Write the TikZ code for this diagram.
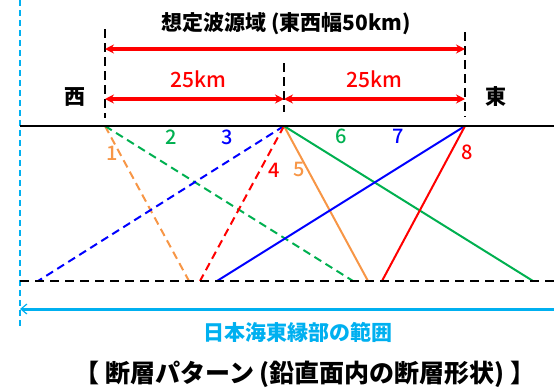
\documentclass[tikz,border=0pt]{standalone}
\usepackage{fontspec}
\setmainfont{Noto Sans CJK JP}
\newfontfamily\midfont{Noto Sans CJK JP Medium}
\usetikzlibrary{arrows.meta}
\definecolor{fltorange}{HTML}{F79646}
\definecolor{fltgreen}{HTML}{00B050}
\definecolor{fltblue}{HTML}{0000FF}
\definecolor{fltred}{HTML}{FF0000}
\definecolor{seablue}{HTML}{00B0F0}
\tikzstyle{heading}=[inner sep=0pt, font=\bfseries\fontsize{21}{21}\selectfont]
\tikzstyle{caption}=[inner sep=0pt, font=\bfseries\fontsize{25}{25}\selectfont]
\tikzstyle{num}=[inner sep=0pt, font=\midfont\fontsize{20}{20}\selectfont]
\tikzstyle{km}=[inner sep=0pt, fltred, font=\midfont\fontsize{21}{21}\selectfont]
\tikzstyle{fault}=[line width=2pt]
\tikzstyle{hidden}=[fault, dash pattern=on 8pt off 5pt]
\tikzstyle{edgemark}=[line width=2pt, dash pattern=on 9pt off 5pt]
\tikzstyle{span}=[line width=3.2pt, fltred, {Stealth[length=9pt,width=9pt]}-{Stealth[length=9pt,width=9pt]}]

\begin{document}
\begin{tikzpicture}[x=1pt, y=-1pt]
\useasboundingbox (0,0) rectangle (554,388);

% surface and lower edge
\coordinate (SL) at (20,126);
\coordinate (SR) at (554,126);
\coordinate (BL) at (20,281);
\coordinate (BR) at (554,281);

% fault tops
\coordinate (W) at (105,126);
\coordinate (C) at (284,126);
\coordinate (E) at (465,126);

% fault bottoms
\coordinate (b1) at (189,281);
\coordinate (b2) at (353,281);
\coordinate (b3) at (38,281);
\coordinate (b4) at (200,281);
\coordinate (b5) at (368,281);
\coordinate (b6) at (533,281);
\coordinate (b7) at (217,281);
\coordinate (b8) at (382,281);

% dashed markers
\coordinate (Wt) at (105,29);
\coordinate (Wb) at (105,118);
\coordinate (Ct) at (284,63);
\coordinate (Cb) at (284,112);
\coordinate (Et) at (465,32);
\coordinate (Eb) at (465,117);

\coordinate (Wa) at (105,49);
\coordinate (Ea) at (465,49);
\coordinate (Wl) at (105,99);
\coordinate (Cl) at (284,99);
\coordinate (El) at (465,99);

% sea area
\coordinate (St) at (20,0);
\coordinate (Sb) at (20,328);
\coordinate (Ar) at (554,309);
\coordinate (Al) at (20,309);

\node [heading] (title) at (286,24) {想定波源域 (東西幅50km)};
\node [km] (kmW) at (198,79) {25km};
\node [km] (kmE) at (374,79) {25km};
\node [heading] (west) at (75,97) {西};
\node [heading] (east) at (496,97) {東};

\node [num, fltorange] (n1) at (112,153) {1};
\node [num, fltgreen] (n2) at (171,137) {2};
\node [num, fltblue] (n3) at (227,137) {3};
\node [num, fltred] (n4) at (274,170) {4};
\node [num, fltorange] (n5) at (299,169) {5};
\node [num, fltgreen] (n6) at (341,136) {6};
\node [num, fltblue] (n7) at (398,136) {7};
\node [num, fltred] (n8) at (467,152) {8};

\node [heading, seablue] (sea) at (298,332) {日本海東縁部の範囲};
\node [caption] (pattern) at (305,374) {【 断層パターン (鉛直面内の断層形状) 】};

\draw [line width=1.5pt, seablue, dash pattern=on 6pt off 4pt] (St) -- (Sb);
\draw [line width=3pt, seablue, -{Straight Barb[length=6pt,width=10pt,line width=1.2pt]}] (Ar) -- (Al);

\draw [edgemark] (Wt) -- (Wb);
\draw [edgemark] (Ct) -- (Cb);
\draw [edgemark] (Et) -- (Eb);

\draw [span] (Wa) -- (Ea);
\draw [span] (Wl) -- (Cl);
\draw [span] (Cl) -- (El);

\draw [hidden, fltorange] (W) -- (b1);
\draw [hidden, fltgreen] (W) -- (b2);
\draw [hidden, fltblue] (C) -- (b3);
\draw [hidden, fltred] (C) -- (b4);
\draw [fault, fltorange] (C) -- (b5);
\draw [fault, fltgreen] (C) -- (b6);
\draw [fault, fltblue] (E) -- (b7);
\draw [fault, fltred] (E) -- (b8);

\draw [line width=2.5pt] (SL) -- (SR);
\draw [line width=2pt, dash pattern=on 9pt off 6pt] (BL) -- (BR);

\end{tikzpicture}
\end{document}
